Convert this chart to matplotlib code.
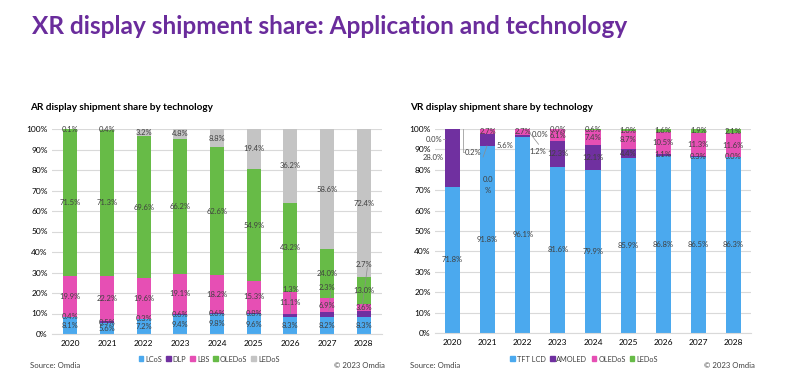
import matplotlib.pyplot as plt
import numpy as np
from matplotlib.patches import Patch

plt.rcParams['font.family'] = ['Lato', 'DejaVu Sans']

years = ['2020', '2021', '2022', '2023', '2024', '2025', '2026', '2027', '2028']

# AR display shipment share (%)
ar_series = ['LCoS', 'DLP', 'LBS', 'OLEDoS', 'LEDoS']
ar_lcos = [8.1, 5.6, 7.2, 9.4, 9.8, 9.6, 8.3, 8.2, 8.3]
ar_dlp = [0.4, 0.5, 0.3, 0.6, 0.6, 0.8, 1.3, 2.3, 2.7]
ar_lbs = [19.9, 22.2, 19.6, 19.1, 18.2, 15.3, 11.1, 6.9, 3.6]
ar_oledos = [71.5, 71.3, 69.6, 66.2, 62.6, 54.9, 43.2, 24.0, 13.0]
ar_ledos = [0.1, 0.4, 3.2, 4.8, 8.8, 19.4, 36.2, 58.6, 72.4]

# VR display shipment share (%)
vr_series = ['TFT LCD', 'AMOLED', 'OLEDoS', 'LEDoS']
vr_tft = [71.8, 91.8, 96.1, 81.6, 79.9, 85.9, 86.8, 86.5, 86.3]
vr_amoled = [28.0, 5.6, 1.2, 12.3, 12.1, 4.4, 1.1, 0.3, 0.0]
vr_oledos = [0.2, 2.7, 2.7, 6.1, 7.4, 8.7, 10.5, 11.3, 11.6]
vr_ledos = [0.0, 0.0, 0.0, 0.0, 0.6, 1.0, 1.6, 1.9, 2.1]

BLUE = '#4BA9EE'
PURPLE = '#7030A0'
PINK = '#E64FB4'
GREEN = '#67BB47'
GRAY = '#C4C4C4'
TXT = '#404040'

ar_colors = [BLUE, PURPLE, PINK, GREEN, GRAY]
vr_colors = [BLUE, PURPLE, PINK, GREEN]

fig = plt.figure(figsize=(7.95, 3.76), dpi=100)

fig.text(32 / 795, 1 - 27 / 376, 'XR display shipment share: Application and technology',
         color='#6A2C9C', fontsize=17.6, fontweight='bold', va='center', ha='left')
fig.text(30 / 795, 1 - 107 / 376, 'AR display shipment share by technology',
         fontsize=7.2, fontweight='bold', color='black', va='center')
fig.text(410 / 795, 1 - 107 / 376, 'VR display shipment share by technology',
         fontsize=7.2, fontweight='bold', color='black', va='center')


def style_axes(ax):
    ax.set_xlim(-0.5, 8.5)
    ax.set_ylim(0, 100)
    ax.set_yticks(np.arange(0, 101, 10))
    ax.set_yticklabels([f'{v}%' for v in range(0, 101, 10)])
    ax.set_xticks(range(len(years)))
    ax.set_xticklabels(years)
    ax.grid(axis='y', color='#D9D9D9', linewidth=0.8)
    ax.set_axisbelow(True)
    for s in ['top', 'right', 'left']:
        ax.spines[s].set_visible(False)
    ax.spines['bottom'].set_color('#D9D9D9')
    ax.tick_params(length=0, labelsize=6, colors='black', pad=4)
    ax.tick_params(axis='y', pad=3)


def stacked(ax, data, colors, width, overrides):
    x = np.arange(len(years))
    bottom = np.zeros(len(years))
    for si, (vals, c) in enumerate(zip(data, colors)):
        vals = np.array(vals)
        ax.bar(x, vals, width, bottom=bottom, color=c, zorder=2)
        for i, v in enumerate(vals):
            pos = (x[i], bottom[i] + v / 2)
            ha = 'center'
            line = None
            if (si, i) in overrides:
                pos, ha, line = overrides[(si, i)]
            if line is not None:
                ax.plot(line[0], line[1], color='#8C8C8C', linewidth=0.5, zorder=3)
            ax.text(pos[0], pos[1], f'{v:.1f}%', ha=ha, va='center', fontsize=5.5,
                    color=TXT, zorder=4)
        bottom += vals


# AR chart
ax1 = fig.add_axes([52 / 795, 42 / 376, 330 / 795, 205 / 376])
style_axes(ax1)
ar_over = {
    (1, 6): ((6, 21.5), 'center', ([6, 6], [10.2, 19.8])),
    (1, 7): ((7, 22.5), 'center', ([7.05, 7.1], [11.5, 20.8])),
    (1, 8): ((8, 34.0), 'center', ([7.95, 8.1], [12.0, 32.3])),
}
stacked(ax1, [ar_lcos, ar_dlp, ar_lbs, ar_oledos, ar_ledos], ar_colors, 0.39, ar_over)

# VR chart
ax2 = fig.add_axes([435 / 795, 43 / 376, 316 / 795, 204 / 376])
style_axes(ax2)
vr_over = {
    (1, 0): ((-0.25, 85.8), 'right', None),
    (2, 0): ((0.35, 88.5), 'left', ([0.3, 0.3, 0.34], [99.9, 88.5, 88.5])),
    (3, 0): ((-0.3, 95.0), 'right', ([-0.28, -0.22], [95.0, 95.0])),
    (1, 1): ((1.25, 91.7), 'left', None),
    (3, 1): ((1.0, 72.5), 'center', ([0.98, 0.87], [91.7, 86.3])),
    (1, 2): ((2.2, 88.9), 'left', ([2.2, 2.45], [98.0, 92.5])),
    (3, 2): ((2.25, 97.5), 'left', None),
}
stacked(ax2, [vr_tft, vr_amoled, vr_oledos, vr_ledos], vr_colors, 0.43, vr_over)
# the 2021 LEDoS label in the source wraps onto two lines
for t in ax2.texts:
    if t.get_position() == (1.0, 72.5):
        t.set_text('0.0\n%')
        t.set_linespacing(1.6)

# legends
leg_kw = dict(loc='center', frameon=False, fontsize=5.3, handlelength=0.65,
              handleheight=0.65, handletextpad=0.25, columnspacing=0.55, labelcolor=TXT)
h1 = [Patch(color=c, label=l) for c, l in zip(ar_colors, ar_series)]
fig.legend(handles=h1, bbox_to_anchor=(209 / 795, 1 - 359 / 376), ncol=5, **leg_kw)
h2 = [Patch(color=c, label=l) for c, l in zip(vr_colors, vr_series)]
fig.legend(handles=h2, bbox_to_anchor=(584 / 795, 1 - 359 / 376), ncol=4, **leg_kw)

fig.text(30 / 795, 1 - 366 / 376, 'Source: Omdia', fontsize=5.6, color=TXT, va='center')
fig.text(385 / 795, 1 - 366 / 376, '© 2023 Omdia', fontsize=5.6, color=TXT,
         va='center', ha='right')
fig.text(410 / 795, 1 - 366 / 376, 'Source: Omdia', fontsize=5.6, color=TXT, va='center')
fig.text(755 / 795, 1 - 366 / 376, '© 2023 Omdia', fontsize=5.6, color=TXT,
         va='center', ha='right')

fig.savefig('out.png', dpi=100)
